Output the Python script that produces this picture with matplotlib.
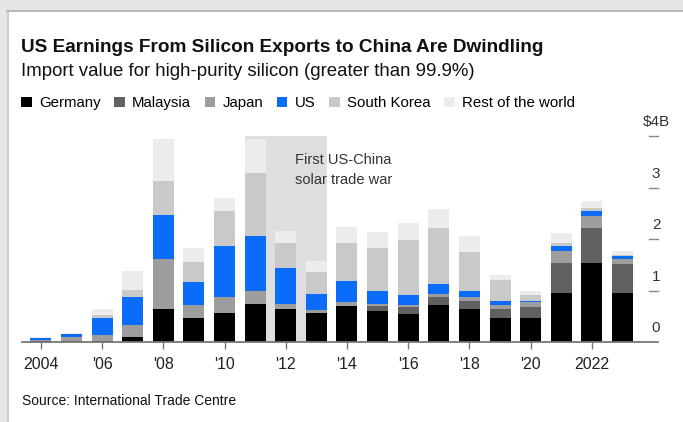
import numpy as np
import matplotlib.pyplot as plt
from matplotlib.patches import Rectangle

plt.rcParams['font.family'] = ['Liberation Sans', 'DejaVu Sans']

# Import value of high-purity silicon into China, $ billions, by origin
years = np.arange(2004, 2024)
germany = [0.01, 0.01, 0.02, 0.10, 0.65, 0.47, 0.57, 0.74, 0.65, 0.56,
           0.69, 0.60, 0.54, 0.72, 0.65, 0.47, 0.47, 0.96, 1.54, 0.96]
malaysia = [0.00, 0.00, 0.00, 0.00, 0.00, 0.00, 0.00, 0.00, 0.00, 0.00,
            0.00, 0.10, 0.13, 0.16, 0.15, 0.18, 0.20, 0.57, 0.68, 0.55]
japan = [0.02, 0.08, 0.12, 0.23, 0.97, 0.25, 0.31, 0.26, 0.08, 0.07,
         0.09, 0.04, 0.05, 0.06, 0.08, 0.07, 0.11, 0.23, 0.23, 0.11]
us = [0.05, 0.065, 0.33, 0.55, 0.85, 0.45, 0.98, 1.05, 0.71, 0.31,
      0.40, 0.25, 0.19, 0.18, 0.12, 0.08, 0.02, 0.10, 0.10, 0.05]
south_korea = [0.00, 0.005, 0.05, 0.13, 0.66, 0.39, 0.68, 1.24, 0.49, 0.41,
               0.75, 0.83, 1.08, 1.10, 0.75, 0.40, 0.11, 0.07, 0.05, 0.02]
rest = [0.01, 0.01, 0.13, 0.36, 0.82, 0.26, 0.26, 0.65, 0.23, 0.22,
        0.31, 0.32, 0.33, 0.36, 0.31, 0.10, 0.08, 0.19, 0.14, 0.08]

series = [germany, malaysia, japan, us, south_korea, rest]
names = ['Germany', 'Malaysia', 'Japan', 'US', 'South Korea', 'Rest of the world']
colors = ['#000000', '#616161', '#9d9d9d', '#0a6cf8', '#c9c9c9', '#ececec']

tick_years = [2004, 2006, 2008, 2010, 2012, 2014, 2016, 2018, 2020, 2022]
tick_labels = ['2004', "'06", "'08", "'10", "'12", "'14", "'16", "'18", "'20", '2022']
y_ticks = [0, 1, 2, 3, 4]
y_labels = ['0', '1', '2', '3', '$4B']

trade_war = (2011, 2013)

fig = plt.figure(figsize=(6.83, 4.22), dpi=100)
W, H = 683, 422

# grey page edge at top and left
fig.patches.append(Rectangle((0, 1 - 10 / H), 1, 10 / H, transform=fig.transFigure,
                             facecolor='#e5e6e8', edgecolor='none', zorder=0))
fig.patches.append(Rectangle((0, 0), 7 / W, 1, transform=fig.transFigure,
                             facecolor='#e5e6e8', edgecolor='none', zorder=0))
fig.add_artist(plt.Line2D([7 / W, 1], [1 - 10.5 / H] * 2, transform=fig.transFigure,
                          color='#a9a9a9', lw=1.2))
fig.add_artist(plt.Line2D([7.5 / W] * 2, [0, 1 - 10 / H], transform=fig.transFigure,
                          color='#c4c4c4', lw=1.2))

ax = fig.add_axes([22 / W, 1 - 342 / H, 636 / W, 206 / H])

bar_w = 0.686
bottom = np.zeros(len(years))
handles = []
for vals, name, c in zip(series, names, colors):
    vals = np.array(vals)
    b = ax.bar(years, vals, width=bar_w, bottom=bottom, color=c, label=name,
               linewidth=0, zorder=2)
    handles.append(b)
    bottom += vals

ax.axvspan(trade_war[0] - bar_w / 2, trade_war[1] + bar_w / 2, color='#dedede',
           lw=0, zorder=1)
ax.text(2012.3, 3.53, 'First US-China', fontsize=10.5, color='#333333', va='center')
ax.text(2012.3, 3.15, 'solar trade war', fontsize=10.5, color='#333333', va='center')

ax.set_xlim(2003.386, 2024.157)
ax.set_ylim(0, 4)

for s in ['top', 'right', 'left']:
    ax.spines[s].set_visible(False)
ax.spines['bottom'].set_color('#777777')
ax.spines['bottom'].set_linewidth(1.3)

ax.set_xticks(tick_years)
ax.set_xticklabels(tick_labels, fontsize=11.5, color='#222222')
ax.tick_params(axis='x', length=5, width=1, color='#777777', pad=6)
ax.set_yticks([])

# value scale drawn at the right end, labels sitting above short marks
ytr = ax.get_yaxis_transform()
for v, lab in zip(y_ticks, y_labels):
    if v > 0:
        ax.plot([0.9858, 1.0], [v, v], transform=ytr, color='#888888', lw=1,
                clip_on=False)
    ax.text(0.997, v + 0.27, lab, transform=ytr, ha='center', va='center',
            fontsize=11, color='#333333', clip_on=False)

fig.text(21 / W, 1 - 48 / H, 'US Earnings From Silicon Exports to China Are Dwindling',
         fontsize=13.7, fontweight='bold', va='center', color='#111111')
fig.text(21 / W, 1 - 72 / H, 'Import value for high-purity silicon (greater than 99.9%)',
         fontsize=13.4, va='center', color='#111111')

fig.legend(handles=handles, labels=names, loc='center left',
           bbox_to_anchor=(21 / W, 1 - 103 / H), ncol=6, frameon=False,
           fontsize=10.8, handlelength=0.7, handleheight=0.7, handletextpad=0.5,
           columnspacing=0.9, borderaxespad=0, borderpad=0)

fig.text(22 / W, 1 - 401 / H, 'Source: International Trade Centre',
         fontsize=10, va='center', color='#111111')

fig.savefig('out.png', dpi=100)
